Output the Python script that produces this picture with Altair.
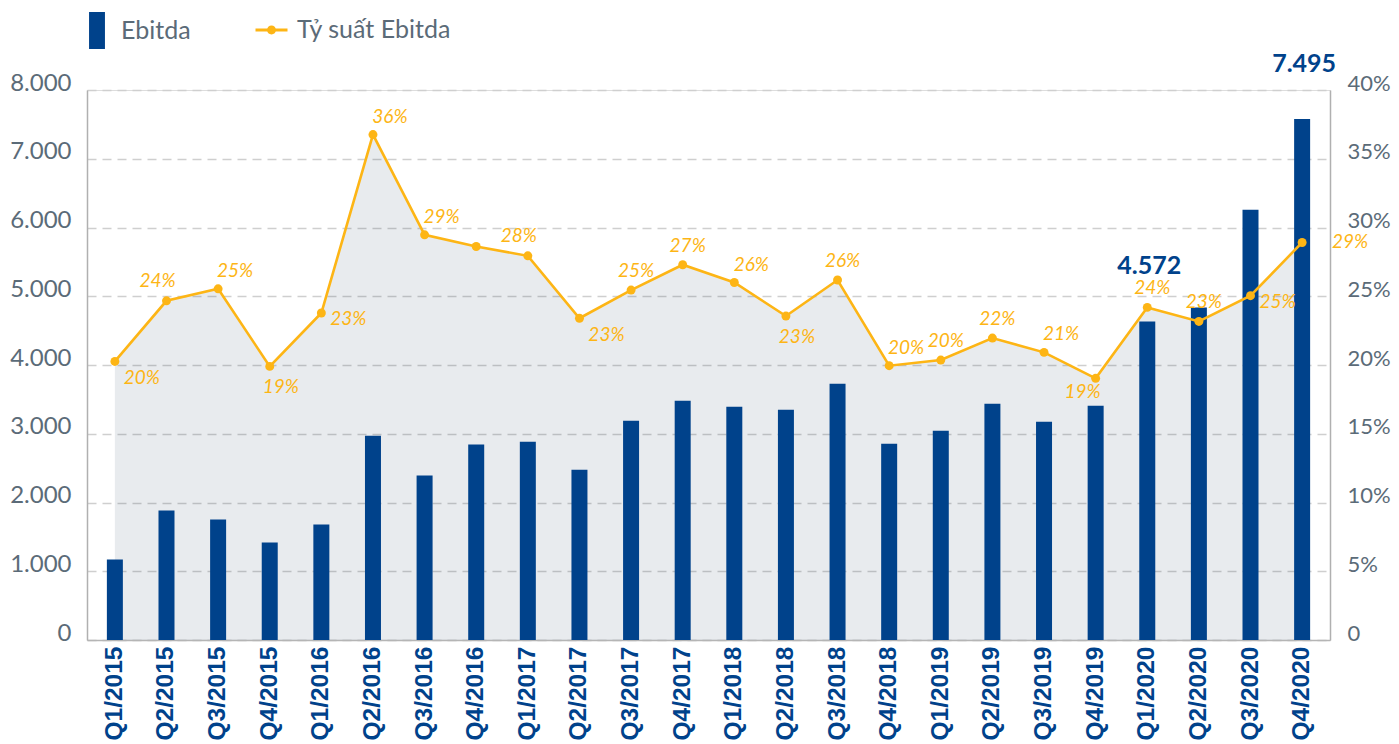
import altair as alt
import pandas as pd

quarters = ["Q1/2015", "Q2/2015", "Q3/2015", "Q4/2015",
            "Q1/2016", "Q2/2016", "Q3/2016", "Q4/2016",
            "Q1/2017", "Q2/2017", "Q3/2017", "Q4/2017",
            "Q1/2018", "Q2/2018", "Q3/2018", "Q4/2018",
            "Q1/2019", "Q2/2019", "Q3/2019", "Q4/2019",
            "Q1/2020", "Q2/2020", "Q3/2020", "Q4/2020"]

ebitda = [1170, 1883, 1752, 1417, 1679, 2972, 2391, 2843, 2885, 2478, 3190, 3481,
          3394, 3350, 3728, 2856, 3045, 3438, 3176, 3408, 4634, 4837, 6257, 7580]

margin = [20.26, 24.67, 25.54, 19.90, 23.78, 36.76, 29.47, 28.62, 27.94, 23.40, 25.45, 27.29,
          26.00, 23.56, 26.18, 19.95, 20.36, 21.96, 20.92, 19.03, 24.19, 23.17, 25.04, 28.91]

margin_labels = ["20%", "24%", "25%", "19%", "23%", "36%", "29%", "", "28%", "23%", "25%", "27%",
                 "26%", "23%", "26%", "20%", "20%", "22%", "21%", "19%", "24%", "23%", "25%", "29%"]

label_place = ["below-right", "above-left", "above-right", "below", "right", "above-right",
               "above-right", "none", "above-left", "below-right", "above", "above",
               "above-right", "below", "above", "above-right", "above", "above",
               "above-right", "below-left", "above", "above", "right", "far-right"]

bar_labels = [""] * 20 + ["4.572", "", "", "7.495"]

BLUE = "#00428b"
ORANGE = "#fdb515"
GREY_TXT = "#5b6b78"
FONT = "Lato"

df = pd.DataFrame({
    "quarter": quarters,
    "ebitda": ebitda,
    "margin": margin,
    "mlabel": margin_labels,
    "place": label_place,
    "blabel": bar_labels,
    "bar_series": ["Ebitda"] * len(quarters),
    "line_series": ["Tỷ suất Ebitda"] * len(quarters),
})

x = alt.X("quarter:N", sort=quarters,
          scale=alt.Scale(paddingInner=0, paddingOuter=0.04),
          axis=alt.Axis(title=None, labelAngle=270, labelAlign="right", labelBaseline="middle",
                        labelFont="Liberation Sans", labelFontWeight="bold", labelFontSize=24.5,
                        labelColor=BLUE, labelPadding=6, ticks=False,
                        domainColor="#b5b5b5", domainWidth=1.5, grid=False))

pct_scale = alt.Scale(domain=[0, 40], nice=False, zero=True)
eb_scale = alt.Scale(domain=[0, 8000], nice=False)

area = alt.Chart(df).mark_area(color="#1a3a5c", opacity=0.1).encode(
    x=x,
    y=alt.Y("margin:Q", scale=pct_scale, axis=None),
)

bar_legend_sym = "M-0.43,-1H0.43V1H-0.43Z"
bars = alt.Chart(df).mark_bar(size=16).encode(
    x=x,
    y=alt.Y("ebitda:Q", scale=eb_scale,
            axis=alt.Axis(title=None, values=[0, 1000, 2000, 3000, 4000, 5000, 6000, 7000, 8000],
                          labelExpr="replace(format(datum.value, ','), ',', '.')",
                          labelFont=FONT, labelFontSize=24, labelColor=GREY_TXT,
                          labelPadding=16, labelBaseline="alphabetic", ticks=False,
                          domainColor="#b0b0b0", domainWidth=1.5,
                          grid=True, gridColor="#cfcfcf", gridDash=[9, 6], gridWidth=1.3)),
    color=alt.Color("bar_series:N", scale=alt.Scale(domain=["Ebitda"], range=[BLUE]),
                    legend=alt.Legend(title=None, orient="none", legendX=-8.5, legendY=-78,
                                      symbolType=bar_legend_sym, symbolSize=1369,
                                      symbolStrokeWidth=0, padding=0, labelOffset=5.5,
                                      labelFont=FONT, labelFontSize=25, labelColor=GREY_TXT)),
)

bar_text = alt.Chart(df).transform_filter("datum.blabel != ''").mark_text(
    font=FONT, fontWeight="bold", fontSize=25, color=BLUE, dy=-55, dx=2, baseline="middle"
).encode(
    x=x,
    y=alt.Y("ebitda:Q", scale=eb_scale),
    text="blabel:N",
)

left_group = alt.layer(bars, bar_text)

line_legend_sym = ("M-1,-0.09H1V0.09H-1Z "
                   "M-0.28,0A0.28,0.28 0 1,1 0.28,0A0.28,0.28 0 1,1 -0.28,0Z")
line = alt.Chart(df).mark_line(strokeWidth=2.6, color=ORANGE).encode(
    x=x,
    y=alt.Y("margin:Q", scale=pct_scale,
            axis=alt.Axis(title=None, orient="right", values=[0, 5, 10, 15, 20, 25, 30, 35, 40],
                          labelExpr="datum.value == 0 ? '0' : datum.value + '%'",
                          labelFont=FONT, labelFontSize=22, labelColor=GREY_TXT,
                          labelPadding=17, labelBaseline="alphabetic", ticks=False,
                          domainColor="#b0b0b0", domainWidth=1.5, grid=False)),
)

points = alt.Chart(df).mark_point(filled=True, size=80, opacity=1).encode(
    x=x,
    y=alt.Y("margin:Q", scale=pct_scale),
    color=alt.Color("line_series:N", scale=alt.Scale(domain=["Tỷ suất Ebitda"], range=[ORANGE]),
                    legend=alt.Legend(title=None, orient="none", legendX=168.5, legendY=-76,
                                      symbolType=line_legend_sym, symbolSize=1024,
                                      symbolStrokeWidth=0, symbolOpacity=1,
                                      padding=0, labelOffset=9.5,
                                      labelFont=FONT, labelFontSize=25, labelColor=GREY_TXT)),
)

offsets = {
    "above": (5, -19),
    "above-right": (17, -18),
    "above-left": (-9, -20),
    "below": (11, 21),
    "below-right": (27, 17),
    "right": (27, 6),
    "below-left": (-13, 14),
    "far-right": (48, 0),
}

texts = []
for name, (ddx, ddy) in offsets.items():
    texts.append(
        alt.Chart(df).transform_filter(f"datum.place == '{name}'").mark_text(
            font=FONT, fontStyle="italic", fontSize=19, color=ORANGE,
            dx=ddx, dy=ddy, baseline="middle", align="center"
        ).encode(
            x=x,
            y=alt.Y("margin:Q", scale=pct_scale),
            text="mlabel:N",
        )
    )

right_group = alt.layer(line, points, *texts)

chart = alt.layer(area, left_group, right_group).resolve_scale(
    y="independent", color="independent"
).properties(
    width=1243, height=550,
    autosize=alt.AutoSizeParams(type="none"),
    padding={"left": 79, "top": 82, "right": 61, "bottom": 103},
).configure_view(stroke=None).configure(background="white")

chart.save("out.html", embed_options={"renderer": "svg", "actions": False})
